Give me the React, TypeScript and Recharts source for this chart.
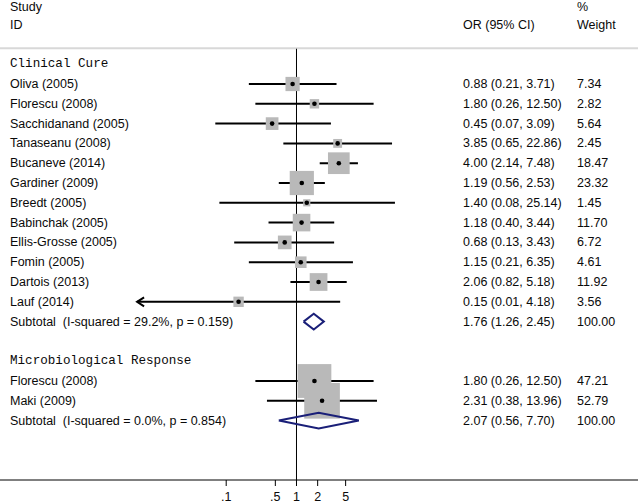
import React from "react";
import { ScatterChart, Scatter, XAxis, YAxis, ReferenceLine } from "recharts";

// ---- data ----
const clinicalStudies = [
  "Oliva (2005)", "Florescu (2008)", "Sacchidanand (2005)", "Tanaseanu (2008)",
  "Bucaneve (2014)", "Gardiner (2009)", "Breedt (2005)", "Babinchak (2005)",
  "Ellis-Grosse (2005)", "Fomin (2005)", "Dartois (2013)", "Lauf (2014)",
];
const clinicalOR = [0.88, 1.8, 0.45, 3.85, 4.0, 1.19, 1.4, 1.18, 0.68, 1.15, 2.06, 0.15];
const clinicalLow = [0.21, 0.26, 0.07, 0.65, 2.14, 0.56, 0.08, 0.4, 0.13, 0.21, 0.82, 0.01];
const clinicalHigh = [3.71, 12.5, 3.09, 22.86, 7.48, 2.53, 25.14, 3.44, 3.43, 6.35, 5.18, 4.18];
const clinicalWeight = [7.34, 2.82, 5.64, 2.45, 18.47, 23.32, 1.45, 11.7, 6.72, 4.61, 11.92, 3.56];
const clinicalSubtotal = { label: "Subtotal  (I-squared = 29.2%, p = 0.159)", or: 1.76, low: 1.26, high: 2.45, weight: 100.0 };

const microStudies = ["Florescu (2008)", "Maki (2009)"];
const microOR = [1.8, 2.31];
const microLow = [0.26, 0.38];
const microHigh = [12.5, 13.96];
const microWeight = [47.21, 52.79];
const microSubtotal = { label: "Subtotal  (I-squared = 0.0%, p = 0.854)", or: 2.07, low: 0.56, high: 7.7, weight: 100.0 };

const groupTitles = ["Clinical Cure", "Microbiological Response"];
const xTicks = [0.1, 0.5, 1, 2, 5];
const xTickLabels = [".1", ".5", "1", "2", "5"];
const PLOT_MIN_OR = 0.0054; // left limit of plotted CI (arrow)

// ---- layout constants ----
const W = 638;
const H = 504;
const X_DOMAIN: [number, number] = [Math.pow(10, -4.2176), Math.pow(10, 4.8578)];
const Y_DOMAIN: [number, number] = [-4.2424, 20];
const FONT = "'Liberation Sans', Arial, sans-serif";
const MONO = "'Liberation Mono', 'DejaVu Sans Mono', monospace";
const COL_NAME = 10;
const COL_OR = 463;
const COL_W = 577;
const FS = 12.5;

type Row = { k: number; kind: string; name?: string; or?: number; low?: number; high?: number; weight?: number };

const rows: Row[] = [];
rows.push({ k: -3.9, kind: "head1" });
rows.push({ k: -3, kind: "head2" });
rows.push({ k: -1, kind: "group", name: groupTitles[0] });
clinicalStudies.forEach((n, i) =>
  rows.push({ k: i, kind: "study", name: n, or: clinicalOR[i], low: clinicalLow[i], high: clinicalHigh[i], weight: clinicalWeight[i] })
);
rows.push({ k: 12, kind: "sub", name: clinicalSubtotal.label, or: clinicalSubtotal.or, low: clinicalSubtotal.low, high: clinicalSubtotal.high, weight: clinicalSubtotal.weight });
rows.push({ k: 14, kind: "group", name: groupTitles[1] });
microStudies.forEach((n, i) =>
  rows.push({ k: 15 + i, kind: "study", name: n, or: microOR[i], low: microLow[i], high: microHigh[i], weight: microWeight[i] })
);
rows.push({ k: 17, kind: "sub", name: microSubtotal.label, or: microSubtotal.or, low: microSubtotal.low, high: microSubtotal.high, weight: microSubtotal.weight });

const labelData = rows.map((r) => ({ x: 1, y: r.k, row: r }));

const studyRows = rows.filter((r) => r.kind === "study");
const pointData = studyRows.map((r) => ({ x: r.or, y: r.k, w: r.weight }));
const arrowData = studyRows
  .filter((r) => (r.low as number) <= 0.01)
  .map((r) => ({ x: PLOT_MIN_OR, y: r.k }));

const diamond = (r: Row) => [
  { x: r.low, y: r.k },
  { x: r.or, y: r.k - 0.4 },
  { x: r.high, y: r.k },
  { x: r.or, y: r.k + 0.4 },
  { x: r.low, y: r.k },
];
const subRows = rows.filter((r) => r.kind === "sub");

const f2 = (v?: number) => (v as number).toFixed(2);

const RowLabel = (props: any) => {
  const { cy, payload } = props;
  const r: Row = payload.row;
  const y = cy;
  const common = { fontFamily: FONT, fontSize: FS, fill: "#0a0a0a", dominantBaseline: "central" as const };
  if (r.kind === "head1") {
    return (
      <g>
        <text x={COL_NAME} y={y} {...common}>Study</text>
        <text x={COL_W} y={y} {...common}>%</text>
      </g>
    );
  }
  if (r.kind === "head2") {
    return (
      <g>
        <text x={COL_NAME} y={y} {...common}>ID</text>
        <text x={COL_OR} y={y} {...common}>OR (95% CI)</text>
        <text x={COL_W} y={y} {...common}>Weight</text>
      </g>
    );
  }
  if (r.kind === "group") {
    return (
      <text x={COL_NAME} y={y} fontFamily={MONO} fontSize={12.6} fill="#0a0a0a" dominantBaseline="central" style={{ whiteSpace: "pre" }}>
        {r.name}
      </text>
    );
  }
  const lowTxt = (r.low as number) < 0.01 ? "0.01" : f2(r.low);
  return (
    <g>
      <text x={COL_NAME} y={y} {...common} style={{ whiteSpace: "pre" }}>{r.name}</text>
      <text x={COL_OR} y={y} {...common}>{`${f2(r.or)} (${lowTxt}, ${f2(r.high)})`}</text>
      <text x={COL_W} y={y} {...common}>{f2(r.weight)}</text>
    </g>
  );
};

const BoxShape = (props: any) => {
  const { cx, cy, payload } = props;
  const s = 1.5 + 4.7 * Math.sqrt(payload.w);
  return <rect x={cx - s / 2} y={cy - s / 2} width={s} height={s} fill="#b9b9b9" />;
};
const DotShape = (props: any) => {
  const { cx, cy } = props;
  return <circle cx={cx} cy={cy} r={2.3} fill="#000" />;
};
const ArrowShape = (props: any) => {
  const { cx, cy } = props;
  return <path d={`M${cx + 7},${cy - 4.5} L${cx},${cy} L${cx + 7},${cy + 4.5}`} stroke="#000" strokeWidth={2} fill="none" />;
};
const NoShape = () => <g />;

const XTick = (props: any) => {
  const { x, y, payload } = props;
  const i = xTicks.indexOf(payload.value);
  return (
    <text x={x} y={y + 13} textAnchor="middle" fontFamily={FONT} fontSize={FS} fill="#0a0a0a">
      {xTickLabels[i]}
    </text>
  );
};

export default function App() {
  return (
    <div style={{ position: "absolute", left: 0, top: 0, width: W, height: H, background: "#fff" }}>
      <ScatterChart width={W} height={H} margin={{ top: 0, right: 0, bottom: 0, left: 0 }}>
        <XAxis
          type="number"
          dataKey="x"
          scale="log"
          domain={X_DOMAIN}
          allowDataOverflow
          ticks={xTicks}
          interval={0}
          height={24}
          tickSize={6}
          tickLine={{ stroke: "#000" }}
          axisLine={{ stroke: "#000", strokeWidth: 1 }}
          tick={<XTick />}
        />
        <YAxis type="number" dataKey="y" domain={Y_DOMAIN} reversed allowDataOverflow hide />
        <ReferenceLine y={-1.8} stroke="#d8d8d8" strokeWidth={2} ifOverflow="visible" />
        <Scatter data={pointData} shape={<BoxShape />} isAnimationActive={false} />
        <ReferenceLine
          segment={[{ x: 1, y: -1.78 }, { x: 1, y: 20 }]}
          stroke="#000"
          strokeWidth={1}
          ifOverflow="visible"
        />
        {studyRows.map((r) => (
          <ReferenceLine
            key={`ci-${r.k}`}
            segment={[
              { x: (r.low as number) <= 0.01 ? PLOT_MIN_OR : r.low, y: r.k },
              { x: r.high, y: r.k },
            ]}
            stroke="#000"
            strokeWidth={2}
            ifOverflow="visible"
          />
        ))}
        <Scatter data={pointData} shape={<DotShape />} isAnimationActive={false} />
        <Scatter data={arrowData} shape={<ArrowShape />} isAnimationActive={false} />
        {subRows.map((r) => (
          <Scatter
            key={`dia-${r.k}`}
            data={diamond(r)}
            shape={<NoShape />}
            line={{ stroke: "#1a1f78", strokeWidth: 2 }}
            isAnimationActive={false}
          />
        ))}
        <Scatter data={labelData} shape={<RowLabel />} isAnimationActive={false} />
      </ScatterChart>
    </div>
  );
}
